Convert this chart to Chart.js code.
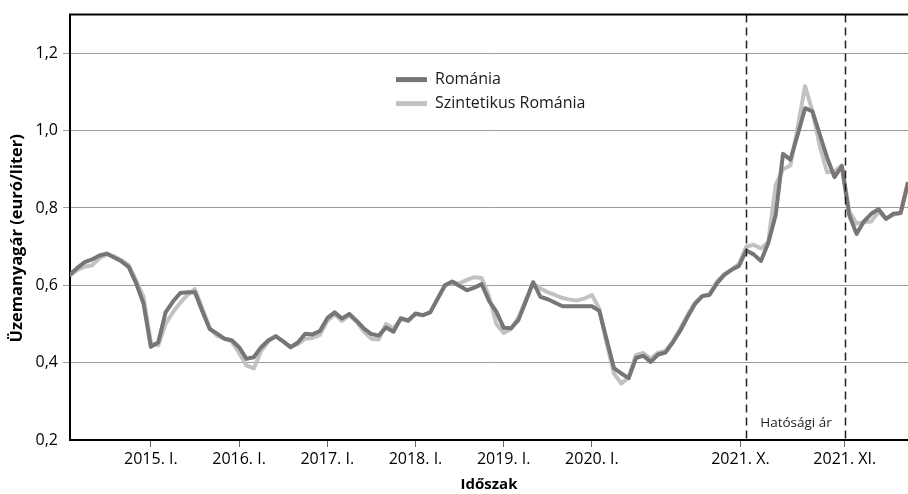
<!DOCTYPE html>
<html lang="hu">
<head>
<meta charset="utf-8">
<title>Üzemanyagár – Románia</title>
<script src="https://cdn.jsdelivr.net/npm/chart.js@4.4.1/dist/chart.umd.min.js"></script>
<style>
  html, body { margin: 0; background: #fff; }
  #wrap { position: relative; width: 908px; height: 494px; }
</style>
</head>
<body>
<div id="wrap"><canvas id="chart" width="908" height="494"></canvas></div>
<script>
// euró/liter, one value per period (monthly, denser from 2021. X.)
const romania = [
  0.628, 0.645, 0.660, 0.667, 0.677, 0.682, 0.672, 0.662, 0.647, 0.605,
  0.553, 0.441, 0.452, 0.530, 0.558, 0.580, 0.582, 0.582, 0.533, 0.487,
  0.475, 0.462, 0.458, 0.440, 0.410, 0.414, 0.440, 0.458, 0.468, 0.455,
  0.440, 0.452, 0.475, 0.473, 0.482, 0.515, 0.530, 0.514, 0.526, 0.508,
  0.488, 0.474, 0.470, 0.491, 0.480, 0.515, 0.509, 0.527, 0.523, 0.530,
  0.565, 0.600, 0.610, 0.598, 0.587, 0.594, 0.603, 0.560, 0.532, 0.490,
  0.489, 0.510, 0.558, 0.608, 0.570, 0.564, 0.555, 0.546, 0.546, 0.546,
  0.546, 0.546, 0.534, 0.460, 0.386, 0.372, 0.360, 0.412, 0.418, 0.402,
  0.421, 0.426, 0.452, 0.482, 0.518, 0.551, 0.572, 0.575, 0.605, 0.627,
  0.640, 0.650, 0.690, 0.680, 0.663, 0.710, 0.782, 0.940, 0.925, 0.990,
  1.058, 1.050, 0.990, 0.930, 0.880, 0.908, 0.782, 0.733, 0.765, 0.785,
  0.797, 0.772, 0.785, 0.787, 0.867
];
const szintetikus = [
  0.625, 0.640, 0.648, 0.652, 0.670, 0.680, 0.675, 0.665, 0.652, 0.612,
  0.570, 0.452, 0.445, 0.500, 0.530, 0.555, 0.575, 0.590, 0.540, 0.490,
  0.470, 0.462, 0.455, 0.425, 0.393, 0.385, 0.430, 0.455, 0.469, 0.455,
  0.440, 0.448, 0.462, 0.464, 0.472, 0.508, 0.525, 0.508, 0.522, 0.505,
  0.480, 0.462, 0.460, 0.500, 0.488, 0.512, 0.508, 0.525, 0.522, 0.530,
  0.565, 0.598, 0.608, 0.605, 0.614, 0.621, 0.619, 0.572, 0.500, 0.477,
  0.487, 0.517, 0.562, 0.605, 0.592, 0.582, 0.575, 0.567, 0.563, 0.561,
  0.566, 0.575, 0.540, 0.450, 0.372, 0.346, 0.362, 0.420, 0.425, 0.410,
  0.426, 0.430, 0.455, 0.488, 0.523, 0.555, 0.572, 0.578, 0.610, 0.628,
  0.641, 0.655, 0.700, 0.705, 0.695, 0.712, 0.860, 0.900, 0.910, 1.010,
  1.115, 1.050, 0.960, 0.892, 0.895, 0.910, 0.792, 0.760, 0.763, 0.765,
  0.790, 0.772, 0.782, 0.787, 0.860
];

const xTickPos = [11, 23, 35, 47, 59, 71, 91.2, 105.4];
const xTickLabels = ['2015. I.', '2016. I.', '2017. I.', '2018. I.', '2019. I.', '2020. I.', '2021. X.', '2021. XI.'];
const yTicks = [0.2, 0.4, 0.6, 0.8, 1.0, 1.2];
const yTitle = 'Üzemanyagár (euró/liter)';

// regulated price period: start / end on the x scale
const hatosagiAr = [92, 105.4];
const hatosagiArLabel = 'Hatósági ár';

const FONT = "'Open Sans', 'Noto Sans', sans-serif";
Chart.defaults.font.family = FONT;
Chart.defaults.color = '#000';

const toPoints = arr => arr.map((v, i) => ({ x: i, y: v }));

// top frame line + rotated y axis title (sits a bit below the plot centre)
const frame = {
  id: 'frame',
  afterDraw(chart) {
    const { ctx, chartArea: a } = chart;
    ctx.save();
    ctx.strokeStyle = '#000';
    ctx.lineWidth = 2;
    ctx.beginPath();
    ctx.moveTo(a.left - 1, a.top);
    ctx.lineTo(a.right, a.top);
    ctx.stroke();

    ctx.translate(17, (a.top + a.bottom) / 2 + 11);
    ctx.rotate(-Math.PI / 2);
    ctx.font = 'bold 16.5px ' + FONT;
    ctx.fillStyle = '#000';
    ctx.textAlign = 'center';
    ctx.textBaseline = 'middle';
    ctx.fillText(yTitle, 0, 0);
    ctx.restore();
  }
};

// dashed period markers and their caption
const periodLines = {
  id: 'periodLines',
  afterDatasetsDraw(chart) {
    const { ctx, chartArea: a, scales: { x } } = chart;
    const px = hatosagiAr.map(v => Math.round(x.getPixelForValue(v)) + 0.5);
    ctx.save();
    ctx.strokeStyle = '#222';
    ctx.lineWidth = 1.5;
    ctx.setLineDash([8, 5]);
    px.forEach(p => {
      ctx.beginPath();
      ctx.moveTo(p, a.top);
      ctx.lineTo(p, a.bottom);
      ctx.stroke();
    });
    ctx.setLineDash([]);
    ctx.fillStyle = '#222';
    ctx.font = '13.5px ' + FONT;
    ctx.textAlign = 'center';
    ctx.textBaseline = 'middle';
    ctx.fillText(hatosagiArLabel, (px[0] + px[1]) / 2, a.bottom - 17);
    ctx.restore();
  }
};

// legend drawn inside the plot area
const innerLegend = {
  id: 'innerLegend',
  afterDraw(chart) {
    const { ctx, chartArea: a } = chart;
    ctx.save();
    ctx.font = '16px ' + FONT;
    ctx.textBaseline = 'middle';
    chart.data.datasets.forEach((ds, i) => {
      const y = a.top + 65 + i * 24;
      const x = a.left + 326;
      ctx.strokeStyle = ds.borderColor;
      ctx.lineWidth = 5;
      ctx.beginPath();
      ctx.moveTo(x, y);
      ctx.lineTo(x + 31, y);
      ctx.stroke();
      ctx.fillStyle = '#1a1a1a';
      ctx.fillText(ds.label, x + 39, y);
    });
    ctx.restore();
  }
};

new Chart(document.getElementById('chart'), {
  type: 'line',
  data: {
    datasets: [
      {
        label: 'Románia',
        data: toPoints(romania),
        borderColor: '#787574',
        borderWidth: 4,
        pointRadius: 0,
        borderJoinStyle: 'round',
        tension: 0
      },
      {
        label: 'Szintetikus Románia',
        data: toPoints(szintetikus),
        borderColor: '#c2c2c2',
        borderWidth: 4,
        pointRadius: 0,
        borderJoinStyle: 'round',
        tension: 0
      }
    ]
  },
  options: {
    responsive: false,
    animation: false,
    layout: { padding: { top: 12, right: 0, left: 0, bottom: 0 } },
    plugins: {
      legend: { display: false },
      tooltip: { enabled: false }
    },
    scales: {
      x: {
        type: 'linear',
        min: 0,
        max: romania.length - 1,
        afterFit(scale) { scale.height = 54; },
        afterBuildTicks(scale) {
          scale.ticks = xTickPos.map(v => ({ value: v }));
        },
        ticks: {
          autoSkip: false,
          maxRotation: 0,
          padding: 3,
          font: { size: 16 },
          callback: (v, i) => xTickLabels[i]
        },
        grid: {
          drawOnChartArea: false,
          drawTicks: true,
          tickLength: 7,
          color: '#666'
        },
        border: { color: '#000', width: 2 },
        title: {
          display: true,
          text: 'Időszak',
          font: { size: 15, weight: 'bold' },
          padding: { top: 0, bottom: 0 }
        }
      },
      y: {
        min: 0.2,
        max: 1.3,
        afterFit(scale) { scale.width = 70; },
        afterBuildTicks(scale) {
          scale.ticks = yTicks.map(v => ({ value: v }));
        },
        ticks: {
          padding: 5,
          font: { size: 16 },
          callback: v => v.toFixed(1).replace('.', ',')
        },
        grid: {
          tickLength: 7,
          lineWidth: 1,
          color: ctx => (ctx.tick && ctx.tick.value === 0.2) ? 'rgba(0,0,0,0)' : '#9c9c9c'
        },
        border: { color: '#000', width: 2 }
      }
    }
  },
  plugins: [frame, periodLines, innerLegend]
});
</script>
</body>
</html>
